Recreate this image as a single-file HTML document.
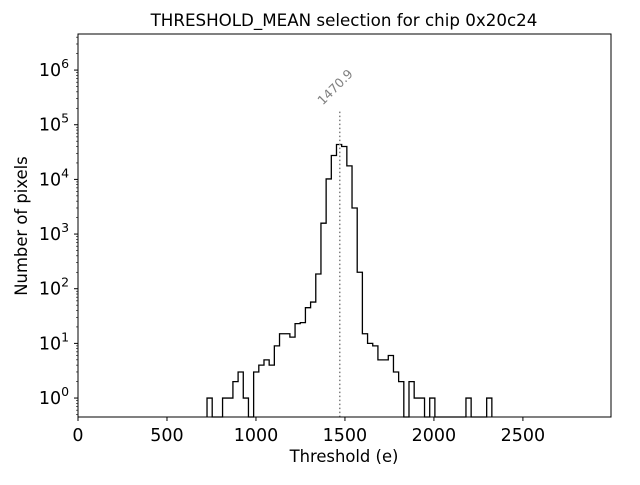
<!DOCTYPE html>
<html><head><meta charset="utf-8"><style>
body{margin:0;background:#fff;}
svg{font-family:"DejaVu Sans","Liberation Sans",sans-serif;}
</style></head><body>
<svg id="chart" width="640" height="480" viewBox="0 0 640 480">
<rect width="640" height="480" fill="#fff"/>
<text x="344" y="26" font-size="16.7" text-anchor="middle">THRESHOLD_MEAN selection for chip 0x20c24</text>
<text x="344" y="462" font-size="16.4" text-anchor="middle">Threshold (e)</text>
<text x="27" y="226" font-size="16.4" text-anchor="middle" transform="rotate(-90 27 226)">Number of pixels</text>
<g id="plot"></g>
<rect x="78" y="34" width="533" height="383" fill="none" stroke="#000" stroke-width="1"/>
</svg>
<script>
const binStart = 725;
const binWidth = 29.1;
const counts = [1,0,0,1,1,2,3,1,0,3,4,5,4,9,15,15,13,23,24,45,57,186,1580,10200,27400,43500,40000,17700,3000,200,15,10,9,5,5,6,3,2,0,2,1,1,0,1,0,0,0,0,0,0,1,0,0,0,1];
const meanValue = 1470.9;
const xTicks = [0,500,1000,1500,2000,2500];
const yTickExps = [0,1,2,3,4,5,6];

const X0=78,X1=611,Y0=34,Y1=417;
const xMin=0,xMax=2995;
const logMin=Math.log10(0.45),logMax=6.66;
const sx=v=>X0+(v-xMin)/(xMax-xMin)*(X1-X0);
const sy=v=>v<=0?Y1:Y1-(Math.log10(v)-logMin)/(logMax-logMin)*(Y1-Y0);
const NS='http://www.w3.org/2000/svg';
const g=document.getElementById('plot');
function mk(t,a){const e=document.createElementNS(NS,t);for(const k in a)e.setAttribute(k,a[k]);g.appendChild(e);return e;}

let d='M'+sx(binStart)+','+Y1;
counts.forEach((c,i)=>{const xa=sx(binStart+i*binWidth),xb=sx(binStart+(i+1)*binWidth);d+=' L'+xa+','+sy(c)+' L'+xb+','+sy(c);});
d+=' L'+sx(binStart+counts.length*binWidth)+','+Y1;
const hist=mk('path',{d:d,fill:'none',stroke:'#000','stroke-width':1.3});



const maxC=Math.max(...counts);
const mx=sx(meanValue);
const ml=mk('line',{x1:mx,x2:mx,y1:sy(maxC*4),y2:Y1,stroke:'#808080','stroke-width':1.5,'stroke-dasharray':'1.5,2.5'});


const mt=mk('text',{x:mx-17,y:sy(maxC*4)-6,'font-size':12.5,fill:'#808080',transform:'rotate(-45 '+(mx-17)+' '+(sy(maxC*4)-6)+')'});
mt.textContent=meanValue.toFixed(1);



xTicks.forEach(v=>{
  const x=sx(v);
  const t=mk('line',{x1:x,x2:x,y1:Y1,y2:Y1+4,stroke:'#000'});
  
  
  const l=mk('text',{x:x,y:Y1+24,'font-size':17.5,'text-anchor':'middle'});
  l.textContent=v;
  
  
});
yTickExps.forEach(e=>{
  const y=sy(Math.pow(10,e));
  const t=mk('line',{x1:X0-4,x2:X0,y1:y,y2:y,stroke:'#000'});
  
  
  const l=mk('text',{x:X0-24,y:y+6,'font-size':17.5,'text-anchor':'middle'});
  l.innerHTML='10<tspan dy="-8" font-size="12.5">'+e+'</tspan>';
  
  
});
for(let e=-1;e<=6;e++){for(let m=2;m<=9;m++){const v=m*Math.pow(10,e);const y=sy(v);if(y<Y0||y>Y1)continue;
  const t=mk('line',{x1:X0-2,x2:X0,y1:y,y2:y,stroke:'#000','stroke-width':0.6});
  
  }}
</script>
</body></html>
